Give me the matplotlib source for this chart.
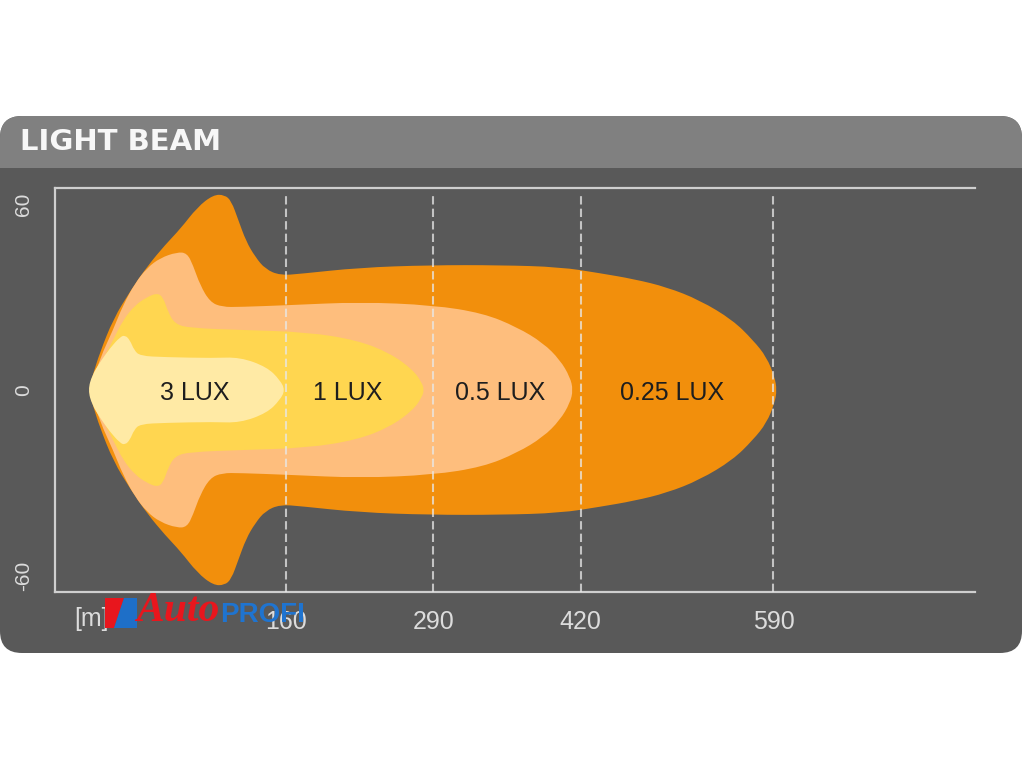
import numpy as np
import matplotlib.pyplot as plt
from matplotlib.patches import FancyBboxPatch, Rectangle, Polygon, PathPatch
from matplotlib.path import Path

# beam outlines, upper half only (distance in m, lateral offset); mirrored below
orange_x = [-14, -10, -4, 8, 23, 38, 54, 67, 82, 96, 106, 112, 118, 125, 133, 142, 155, 173,
            225, 287, 349, 402, 437, 467, 496, 525, 554, 572, 584, 591, 593]
orange_y = [0, 5, 12, 23, 32, 40, 47, 52, 59, 63, 63, 61, 55, 48, 43, 39, 37, 37.5,
            39.5, 40.3, 40.3, 39.7, 37.7, 35.8, 33.2, 29, 22.6, 16.1, 10.6, 4.2, 0]

peach_x = [-12.6, -3.8, 7.7, 16.5, 27.1, 37.7, 49.1, 64.1, 72.9, 78.2, 84.4, 93.2, 103.8,
           119.6, 163.7, 225.4, 289.8, 334.0, 363.9, 386.9, 401.8, 410.6, 413.3]
peach_y = [0, 10.3, 19.4, 27.4, 34.5, 39.4, 42.6, 44.5, 44.2, 40.3, 33.9, 28.4, 26.8,
           26.8, 27.4, 28.4, 27.4, 24.8, 20.3, 15.2, 9.7, 4.2, 0]

yellow_x = [-12.6, -3.8, 7.7, 16.5, 27.1, 37.7, 46.5, 51.8, 56.2, 62.3, 75.6, 119.6,
            178.7, 222.8, 251.9, 272.2, 280.1, 281.9]
yellow_y = [0, 8.1, 16.1, 22.6, 27.4, 30.0, 31.3, 30.0, 25.2, 21.3, 20.0, 19.4,
            18.7, 16.1, 11.9, 6.5, 2.3, 0]

cream_x = [-14.4, -10.8, -3.8, 5.0, 13.8, 18.3, 22.6, 26.2, 31.5, 53.5, 95.8, 119.6,
           143.5, 154.9, 159.3]
cream_y = [0, 4.8, 9.0, 13.5, 17.1, 17.7, 16.1, 12.9, 11.0, 10.6, 10.3, 10.6, 7.4, 3.2, 0]

lux_labels = ["0.25 LUX", "0.5 LUX", "1 LUX", "3 LUX"]
lux_label_x = [501, 349, 215, 80]
lux_colors = ["#f28f0c", "#febe7d", "#ffd650", "#ffeaa5"]

dist_ticks = [160, 290, 420, 590]
lat_ticks = [-60, 0, 60]

body = "#595959"
header = "#808080"
light = "#dcdcdc"


def beam_path(bx, by):
    # mirror the upper outline and round the corners with quadratic curves
    bx = np.array(bx, dtype=float)
    by = np.array(by, dtype=float)
    px = np.concatenate([bx, bx[::-1][1:-1]])
    py = np.concatenate([by, -by[::-1][1:-1]])
    pts = np.column_stack([px, py])
    mids = (pts + np.roll(pts, -1, axis=0)) / 2
    verts = [mids[-1]]
    codes = [Path.MOVETO]
    for i in range(len(pts)):
        verts += [pts[i], mids[i]]
        codes += [Path.CURVE3, Path.CURVE3]
    verts.append(mids[-1])
    codes.append(Path.CLOSEPOLY)
    return Path(verts, codes)


fig = plt.figure(figsize=(10.24, 7.68), dpi=100)

# background panel in pixel coordinates
bg = fig.add_axes([0, 0, 1, 1])
bg.set_xlim(0, 1024)
bg.set_ylim(768, 0)
bg.axis("off")
bg.add_patch(FancyBboxPatch((0, 116), 1022, 537, boxstyle="round,pad=0,rounding_size=22",
                            fc=body, ec="none"))
bg.add_patch(FancyBboxPatch((0, 116), 1022, 80, boxstyle="round,pad=0,rounding_size=22",
                            fc=header, ec="none"))
bg.add_patch(Rectangle((0, 168), 1022, 40, fc=body, ec="none"))
bg.text(20, 142, "LIGHT BEAM", color="#f7f7f7", fontsize=21, fontweight="bold",
        family="DejaVu Sans", ha="left", va="center")
bg.text(91, 619, "[m]", color=light, fontsize=18, family="Liberation Sans",
        ha="center", va="center")

# beam chart
ax = fig.add_axes([55 / 1024, 176 / 768, 920 / 1024, 404 / 768])
ax.set_facecolor("none")
ax.set_xlim(-43.5, 767.7)
ax.set_ylim(-65.2, 65.2)

outlines = [(orange_x, orange_y), (peach_x, peach_y), (yellow_x, yellow_y), (cream_x, cream_y)]
for (bx, by), col in zip(outlines, lux_colors):
    ax.add_patch(PathPatch(beam_path(bx, by), fc=col, ec="none", lw=0, zorder=1))

ax.vlines(dist_ticks, -65.2, 62.5, colors="#e8e8e8", linestyles=(0, (4, 2)),
          lw=1.5, alpha=0.75, zorder=3)

for lab, lx in zip(lux_labels, lux_label_x):
    ax.text(lx, -1, lab, color="#1e1e1e", fontsize=18, family="Liberation Sans",
            ha="center", va="center", zorder=4)

for s in ["top", "left", "bottom"]:
    ax.spines[s].set_color("#cfcfcf")
    ax.spines[s].set_linewidth(1.6)
ax.spines["right"].set_visible(False)

ax.set_xticks(dist_ticks)
ax.set_xticklabels([str(t) for t in dist_ticks], fontsize=18, color=light,
                   family="Liberation Sans")
ax.set_yticks(lat_ticks)
ax.set_yticklabels([str(t) for t in lat_ticks], fontsize=15, color=light,
                   family="Liberation Sans", rotation=90, va="center")
ax.tick_params(axis="x", length=0, pad=13)
ax.tick_params(axis="y", length=0, pad=16)

# watermark overlay
ov = fig.add_axes([0, 0, 1, 1], zorder=5)
ov.set_xlim(0, 1024)
ov.set_ylim(768, 0)
ov.axis("off")
ov.patch.set_alpha(0)
ov.add_patch(Polygon([(105, 598), (124, 598), (114, 628), (105, 628)], fc="#e8161d", ec="none"))
ov.add_patch(Polygon([(124, 598), (137, 598), (137, 628), (114, 628)], fc="#1e6fc8", ec="none"))
ov.text(136, 611, "Auto", color="#e8161d", fontsize=30, fontweight="bold", style="italic",
        family="Liberation Serif", ha="left", va="center")
ov.text(220, 615, "PROFI", color="#1f74d0", fontsize=20, fontweight="bold",
        family="Liberation Sans", ha="left", va="center")

fig.savefig("out.png", dpi=100, facecolor="white")
